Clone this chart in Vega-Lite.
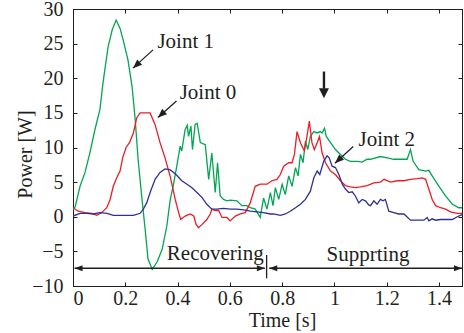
{
  "$schema": "https://vega.github.io/schema/vega-lite/v6.json",
  "width": 389,
  "height": 277,
  "autosize": {"type": "none"},
  "padding": {"left": 73, "top": 9, "right": 2, "bottom": 47},
  "background": "white",
  "config": {
    "view": {"stroke": "#231F20", "strokeWidth": 1},
    "font": "Liberation Serif",
    "style": {"guide-label": {"font": "Liberation Serif"}, "guide-title": {"font": "Liberation Serif"}},
    "axis": {
      "labelFont": "Liberation Serif", "labelFontSize": 20, "labelColor": "#231F20",
      "titleFont": "Liberation Serif", "titleFontSize": 20, "titleFontWeight": "normal", "titleColor": "#231F20",
      "domainColor": "#231F20", "tickColor": "#231F20", "tickSize": -4, "grid": false, "format": "~g"
    }
  },
  "datasets": {
    "j": [
      {"s":"Joint 1","t":0.0,"P":1.0},{"s":"Joint 1","t":0.008,"P":1.4},{"s":"Joint 1","t":0.027,"P":4.4},{"s":"Joint 1","t":0.046,"P":6.4},{"s":"Joint 1","t":0.065,"P":9.3},{"s":"Joint 1","t":0.084,"P":12.6},{"s":"Joint 1","t":0.103,"P":15.5},{"s":"Joint 1","t":0.115,"P":19.4},{"s":"Joint 1","t":0.134,"P":24.5},{"s":"Joint 1","t":0.15,"P":27.0},{"s":"Joint 1","t":0.165,"P":28.4},{"s":"Joint 1","t":0.18,"P":27.2},{"s":"Joint 1","t":0.192,"P":25.5},{"s":"Joint 1","t":0.21,"P":22.7},{"s":"Joint 1","t":0.226,"P":18.8},{"s":"Joint 1","t":0.238,"P":14.0},{"s":"Joint 1","t":0.249,"P":8.3},{"s":"Joint 1","t":0.264,"P":2.5},{"s":"Joint 1","t":0.276,"P":-1.8},{"s":"Joint 1","t":0.287,"P":-6.1},{"s":"Joint 1","t":0.303,"P":-7.6},{"s":"Joint 1","t":0.322,"P":-6.5},{"s":"Joint 1","t":0.341,"P":-4.7},{"s":"Joint 1","t":0.359,"P":-1.3},{"s":"Joint 1","t":0.372,"P":2.5},{"s":"Joint 1","t":0.383,"P":4.4},{"s":"Joint 1","t":0.397,"P":7.3},{"s":"Joint 1","t":0.41,"P":10.2},{"s":"Joint 1","t":0.416,"P":9.5},{"s":"Joint 1","t":0.429,"P":12.6},{"s":"Joint 1","t":0.437,"P":13.2},{"s":"Joint 1","t":0.442,"P":11.6},{"s":"Joint 1","t":0.451,"P":13.1},{"s":"Joint 1","t":0.457,"P":9.7},{"s":"Joint 1","t":0.467,"P":13.3},{"s":"Joint 1","t":0.475,"P":13.5},{"s":"Joint 1","t":0.487,"P":10.7},{"s":"Joint 1","t":0.506,"P":10.4},{"s":"Joint 1","t":0.519,"P":5.4},{"s":"Joint 1","t":0.531,"P":9.2},{"s":"Joint 1","t":0.544,"P":3.5},{"s":"Joint 1","t":0.553,"P":7.8},{"s":"Joint 1","t":0.563,"P":3.0},{"s":"Joint 1","t":0.576,"P":2.5},{"s":"Joint 1","t":0.589,"P":2.3},{"s":"Joint 1","t":0.602,"P":2.4},{"s":"Joint 1","t":0.627,"P":2.3},{"s":"Joint 1","t":0.646,"P":1.6},{"s":"Joint 1","t":0.665,"P":1.6},{"s":"Joint 1","t":0.678,"P":1.3},{"s":"Joint 1","t":0.697,"P":1.1},{"s":"Joint 1","t":0.716,"P":-0.1},{"s":"Joint 1","t":0.729,"P":2.7},{"s":"Joint 1","t":0.742,"P":1.1},{"s":"Joint 1","t":0.755,"P":3.5},{"s":"Joint 1","t":0.765,"P":1.6},{"s":"Joint 1","t":0.774,"P":4.2},{"s":"Joint 1","t":0.787,"P":2.5},{"s":"Joint 1","t":0.8,"P":4.7},{"s":"Joint 1","t":0.812,"P":3.2},{"s":"Joint 1","t":0.825,"P":5.9},{"s":"Joint 1","t":0.838,"P":4.4},{"s":"Joint 1","t":0.851,"P":7.1},{"s":"Joint 1","t":0.861,"P":5.9},{"s":"Joint 1","t":0.87,"P":9.0},{"s":"Joint 1","t":0.88,"P":7.8},{"s":"Joint 1","t":0.889,"P":10.9},{"s":"Joint 1","t":0.898,"P":9.7},{"s":"Joint 1","t":0.908,"P":11.6},{"s":"Joint 1","t":0.921,"P":12.3},{"s":"Joint 1","t":0.934,"P":12.1},{"s":"Joint 1","t":0.946,"P":12.3},{"s":"Joint 1","t":0.953,"P":12.1},{"s":"Joint 1","t":0.962,"P":12.8},{"s":"Joint 1","t":0.969,"P":11.6},{"s":"Joint 1","t":0.985,"P":10.7},{"s":"Joint 1","t":1.004,"P":9.7},{"s":"Joint 1","t":1.023,"P":9.0},{"s":"Joint 1","t":1.042,"P":8.3},{"s":"Joint 1","t":1.061,"P":8.0},{"s":"Joint 1","t":1.088,"P":8.0},{"s":"Joint 1","t":1.106,"P":7.9},{"s":"Joint 1","t":1.125,"P":8.3},{"s":"Joint 1","t":1.138,"P":8.3},{"s":"Joint 1","t":1.176,"P":8.7},{"s":"Joint 1","t":1.202,"P":8.5},{"s":"Joint 1","t":1.227,"P":8.3},{"s":"Joint 1","t":1.253,"P":8.3},{"s":"Joint 1","t":1.278,"P":8.3},{"s":"Joint 1","t":1.291,"P":9.7},{"s":"Joint 1","t":1.301,"P":8.0},{"s":"Joint 1","t":1.323,"P":6.8},{"s":"Joint 1","t":1.349,"P":6.6},{"s":"Joint 1","t":1.361,"P":6.7},{"s":"Joint 1","t":1.374,"P":5.9},{"s":"Joint 1","t":1.4,"P":4.4},{"s":"Joint 1","t":1.425,"P":3.0},{"s":"Joint 1","t":1.451,"P":1.8},{"s":"Joint 1","t":1.476,"P":1.3},{"s":"Joint 1","t":1.495,"P":1.3},
      {"s":"Joint 0","t":0.0,"P":1.3},{"s":"Joint 0","t":0.02,"P":0.8},{"s":"Joint 0","t":0.046,"P":0.6},{"s":"Joint 0","t":0.072,"P":0.5},{"s":"Joint 0","t":0.091,"P":0.2},{"s":"Joint 0","t":0.11,"P":0.6},{"s":"Joint 0","t":0.129,"P":1.3},{"s":"Joint 0","t":0.142,"P":2.5},{"s":"Joint 0","t":0.154,"P":4.4},{"s":"Joint 0","t":0.167,"P":5.6},{"s":"Joint 0","t":0.18,"P":6.6},{"s":"Joint 0","t":0.19,"P":8.5},{"s":"Joint 0","t":0.203,"P":10.0},{"s":"Joint 0","t":0.216,"P":10.7},{"s":"Joint 0","t":0.231,"P":12.1},{"s":"Joint 0","t":0.244,"P":14.3},{"s":"Joint 0","t":0.257,"P":15.0},{"s":"Joint 0","t":0.282,"P":15.0},{"s":"Joint 0","t":0.295,"P":15.0},{"s":"Joint 0","t":0.314,"P":13.3},{"s":"Joint 0","t":0.333,"P":10.7},{"s":"Joint 0","t":0.352,"P":8.5},{"s":"Joint 0","t":0.372,"P":5.8},{"s":"Joint 0","t":0.391,"P":2.5},{"s":"Joint 0","t":0.404,"P":0.6},{"s":"Joint 0","t":0.412,"P":-0.4},{"s":"Joint 0","t":0.429,"P":0.1},{"s":"Joint 0","t":0.448,"P":0.4},{"s":"Joint 0","t":0.462,"P":0.1},{"s":"Joint 0","t":0.471,"P":-1.1},{"s":"Joint 0","t":0.48,"P":-1.6},{"s":"Joint 0","t":0.494,"P":-1.1},{"s":"Joint 0","t":0.512,"P":-0.4},{"s":"Joint 0","t":0.525,"P":0.4},{"s":"Joint 0","t":0.531,"P":1.1},{"s":"Joint 0","t":0.544,"P":0.9},{"s":"Joint 0","t":0.557,"P":0.9},{"s":"Joint 0","t":0.57,"P":-0.1},{"s":"Joint 0","t":0.589,"P":-0.1},{"s":"Joint 0","t":0.601,"P":-0.6},{"s":"Joint 0","t":0.621,"P":0.1},{"s":"Joint 0","t":0.64,"P":0.4},{"s":"Joint 0","t":0.659,"P":0.6},{"s":"Joint 0","t":0.678,"P":2.0},{"s":"Joint 0","t":0.697,"P":4.4},{"s":"Joint 0","t":0.716,"P":4.7},{"s":"Joint 0","t":0.742,"P":4.7},{"s":"Joint 0","t":0.761,"P":5.2},{"s":"Joint 0","t":0.78,"P":5.4},{"s":"Joint 0","t":0.793,"P":6.1},{"s":"Joint 0","t":0.806,"P":7.3},{"s":"Joint 0","t":0.825,"P":7.8},{"s":"Joint 0","t":0.838,"P":7.8},{"s":"Joint 0","t":0.847,"P":9.0},{"s":"Joint 0","t":0.857,"P":12.3},{"s":"Joint 0","t":0.87,"P":10.7},{"s":"Joint 0","t":0.885,"P":9.5},{"s":"Joint 0","t":0.895,"P":11.6},{"s":"Joint 0","t":0.904,"P":13.8},{"s":"Joint 0","t":0.914,"P":10.7},{"s":"Joint 0","t":0.923,"P":9.7},{"s":"Joint 0","t":0.934,"P":10.7},{"s":"Joint 0","t":0.943,"P":11.6},{"s":"Joint 0","t":0.953,"P":9.2},{"s":"Joint 0","t":0.966,"P":7.8},{"s":"Joint 0","t":0.985,"P":6.6},{"s":"Joint 0","t":1.004,"P":6.1},{"s":"Joint 0","t":1.023,"P":5.2},{"s":"Joint 0","t":1.042,"P":4.5},{"s":"Joint 0","t":1.061,"P":4.3},{"s":"Joint 0","t":1.08,"P":4.2},{"s":"Joint 0","t":1.1,"P":4.3},{"s":"Joint 0","t":1.125,"P":4.5},{"s":"Joint 0","t":1.151,"P":4.9},{"s":"Joint 0","t":1.176,"P":5.0},{"s":"Joint 0","t":1.19,"P":5.4},{"s":"Joint 0","t":1.215,"P":5.0},{"s":"Joint 0","t":1.24,"P":5.2},{"s":"Joint 0","t":1.266,"P":5.2},{"s":"Joint 0","t":1.291,"P":5.4},{"s":"Joint 0","t":1.317,"P":5.5},{"s":"Joint 0","t":1.336,"P":5.6},{"s":"Joint 0","t":1.349,"P":5.4},{"s":"Joint 0","t":1.361,"P":4.0},{"s":"Joint 0","t":1.374,"P":2.5},{"s":"Joint 0","t":1.387,"P":1.6},{"s":"Joint 0","t":1.406,"P":1.3},{"s":"Joint 0","t":1.425,"P":1.1},{"s":"Joint 0","t":1.444,"P":0.7},{"s":"Joint 0","t":1.47,"P":0.5},{"s":"Joint 0","t":1.495,"P":0.5},
      {"s":"Joint 2","t":0.0,"P":0.1},{"s":"Joint 2","t":0.027,"P":0.5},{"s":"Joint 2","t":0.052,"P":0.5},{"s":"Joint 2","t":0.078,"P":0.4},{"s":"Joint 2","t":0.103,"P":0.6},{"s":"Joint 2","t":0.13,"P":0.5},{"s":"Joint 2","t":0.154,"P":0.2},{"s":"Joint 2","t":0.18,"P":0.2},{"s":"Joint 2","t":0.206,"P":0.2},{"s":"Joint 2","t":0.231,"P":0.2},{"s":"Joint 2","t":0.257,"P":0.5},{"s":"Joint 2","t":0.269,"P":1.1},{"s":"Joint 2","t":0.282,"P":2.0},{"s":"Joint 2","t":0.295,"P":3.5},{"s":"Joint 2","t":0.314,"P":5.4},{"s":"Joint 2","t":0.333,"P":6.4},{"s":"Joint 2","t":0.352,"P":6.9},{"s":"Joint 2","t":0.37,"P":6.8},{"s":"Joint 2","t":0.378,"P":6.6},{"s":"Joint 2","t":0.397,"P":6.0},{"s":"Joint 2","t":0.416,"P":5.2},{"s":"Joint 2","t":0.436,"P":4.7},{"s":"Joint 2","t":0.455,"P":4.2},{"s":"Joint 2","t":0.474,"P":3.5},{"s":"Joint 2","t":0.493,"P":2.8},{"s":"Joint 2","t":0.512,"P":1.8},{"s":"Joint 2","t":0.531,"P":1.1},{"s":"Joint 2","t":0.55,"P":1.1},{"s":"Joint 2","t":0.576,"P":1.2},{"s":"Joint 2","t":0.602,"P":1.1},{"s":"Joint 2","t":0.627,"P":1.1},{"s":"Joint 2","t":0.653,"P":1.0},{"s":"Joint 2","t":0.678,"P":0.8},{"s":"Joint 2","t":0.703,"P":0.7},{"s":"Joint 2","t":0.729,"P":0.6},{"s":"Joint 2","t":0.755,"P":0.4},{"s":"Joint 2","t":0.767,"P":0.4},{"s":"Joint 2","t":0.793,"P":0.2},{"s":"Joint 2","t":0.812,"P":0.4},{"s":"Joint 2","t":0.831,"P":0.8},{"s":"Joint 2","t":0.851,"P":1.3},{"s":"Joint 2","t":0.87,"P":1.8},{"s":"Joint 2","t":0.889,"P":2.5},{"s":"Joint 2","t":0.908,"P":3.7},{"s":"Joint 2","t":0.921,"P":5.6},{"s":"Joint 2","t":0.934,"P":6.6},{"s":"Joint 2","t":0.944,"P":6.1},{"s":"Joint 2","t":0.959,"P":8.0},{"s":"Joint 2","t":0.972,"P":8.8},{"s":"Joint 2","t":0.98,"P":8.5},{"s":"Joint 2","t":0.991,"P":7.3},{"s":"Joint 2","t":1.004,"P":7.1},{"s":"Joint 2","t":1.017,"P":6.1},{"s":"Joint 2","t":1.03,"P":4.7},{"s":"Joint 2","t":1.042,"P":4.0},{"s":"Joint 2","t":1.055,"P":3.5},{"s":"Joint 2","t":1.068,"P":3.6},{"s":"Joint 2","t":1.08,"P":3.0},{"s":"Joint 2","t":1.093,"P":2.0},{"s":"Joint 2","t":1.106,"P":2.5},{"s":"Joint 2","t":1.119,"P":2.3},{"s":"Joint 2","t":1.131,"P":1.7},{"s":"Joint 2","t":1.138,"P":1.6},{"s":"Joint 2","t":1.151,"P":2.3},{"s":"Joint 2","t":1.163,"P":1.8},{"s":"Joint 2","t":1.176,"P":2.5},{"s":"Joint 2","t":1.186,"P":2.3},{"s":"Joint 2","t":1.195,"P":2.5},{"s":"Joint 2","t":1.208,"P":0.8},{"s":"Joint 2","t":1.227,"P":0.6},{"s":"Joint 2","t":1.246,"P":0.4},{"s":"Joint 2","t":1.266,"P":0.4},{"s":"Joint 2","t":1.291,"P":-0.5},{"s":"Joint 2","t":1.317,"P":-0.5},{"s":"Joint 2","t":1.342,"P":-0.5},{"s":"Joint 2","t":1.355,"P":-0.1},{"s":"Joint 2","t":1.361,"P":-0.6},{"s":"Joint 2","t":1.374,"P":-0.3},{"s":"Joint 2","t":1.387,"P":-0.5},{"s":"Joint 2","t":1.406,"P":-0.4},{"s":"Joint 2","t":1.431,"P":-0.4},{"s":"Joint 2","t":1.451,"P":-0.4},{"s":"Joint 2","t":1.47,"P":0.0},{"s":"Joint 2","t":1.495,"P":0.4}
    ],
    "segs": [
      {"t":0.306,"P":24.1,"t2":0.2295,"P2":21.46},
      {"t":0.396,"P":16.73,"t2":0.325,"P2":14.32},
      {"t":1.072,"P":10.13,"t2":1.002,"P2":7.73},
      {"t":0.006,"P":-7.44,"t2":0.734,"P2":-7.44},
      {"t":0.7506,"P":-7.44,"t2":1.488,"P2":-7.44},
      {"t":0.7406,"P":-5.52,"t2":0.7406,"P2":-8.89}
    ],
    "down": [{"t":0.96,"P":20.97,"t2":0.96,"P2":18.5}],
    "headDiag": [{"t":0.2295,"P":21.46},{"t":0.325,"P":14.32},{"t":1.002,"P":7.73}],
    "headDown": [{"t":0.96,"P":17.12}],
    "headLeft": [{"t":0.006,"P":-7.44},{"t":0.7506,"P":-7.44}],
    "headRight": [{"t":0.734,"P":-7.44},{"t":1.488,"P":-7.44}],
    "labels": [
      {"t":0.323,"P":24.4,"label":"Joint 1"},
      {"t":0.408,"P":17.0,"label":"Joint 0"},
      {"t":1.092,"P":10.2,"label":"Joint 2"},
      {"t":0.359,"P":-6.3,"label":"Recovering"},
      {"t":0.970,"P":-6.4,"label":"Supprting"}
    ]
  },
  "resolve": {"axis": {"x": "independent", "y": "independent"}},
  "layer": [
    {
      "data": {"name": "j"},
      "mark": {"type": "line", "strokeWidth": 1.3, "clip": true},
      "encoding": {
        "x": {"field": "t", "type": "quantitative", "scale": {"domain": [0, 1.488], "nice": false, "zero": false},
              "axis": {"values": [0, 0.2, 0.4, 0.6, 0.8, 1, 1.2, 1.4], "title": "Time [s]", "labelFont": "Liberation Serif", "titleFont": "Liberation Serif", "labelPadding": 6, "titlePadding": 2, "titleX": 209}},
        "y": {"field": "P", "type": "quantitative", "scale": {"domain": [-10, 30], "nice": false, "zero": false},
              "axis": {"values": [-10, -5, 0, 5, 10, 15, 20, 25, 30], "title": "Power [W]", "labelFont": "Liberation Serif", "titleFont": "Liberation Serif", "labelPadding": 14, "titleX": -38, "titleY": 145}},
        "color": {"field": "s", "type": "nominal", "legend": null,
                  "scale": {"domain": ["Joint 0", "Joint 1", "Joint 2"], "range": ["#ED1C24", "#00A651", "#2E3192"]}},
        "order": {"field": "t"}
      }
    },
    {
      "data": {"name": "segs"},
      "mark": {"type": "rule", "strokeWidth": 1.3, "color": "#231F20"},
      "encoding": {
        "x": {"field": "t", "type": "quantitative", "axis": {"orient": "top", "values": [0, 0.2, 0.4, 0.6, 0.8, 1, 1.2, 1.4], "labels": false, "title": null}},
        "y": {"field": "P", "type": "quantitative", "axis": {"orient": "right", "values": [-10, -5, 0, 5, 10, 15, 20, 25, 30], "labels": false, "title": null}},
        "x2": {"field": "t2"},
        "y2": {"field": "P2"}
      }
    },
    {
      "data": {"name": "down"},
      "mark": {"type": "rule", "strokeWidth": 2.4, "color": "#231F20"},
      "encoding": {
        "x": {"field": "t", "type": "quantitative", "axis": null},
        "y": {"field": "P", "type": "quantitative", "axis": null},
        "x2": {"field": "t2"},
        "y2": {"field": "P2"}
      }
    },
    {
      "data": {"name": "headDiag"},
      "mark": {"type": "point", "shape": "M0,0L0.4,1L-0.4,1Z", "filled": true, "opacity": 1, "size": 324, "angle": 227.5, "color": "#231F20", "strokeWidth": 0},
      "encoding": {
        "x": {"field": "t", "type": "quantitative", "axis": null},
        "y": {"field": "P", "type": "quantitative", "axis": null}
      }
    },
    {
      "data": {"name": "headDown"},
      "mark": {"type": "point", "shape": "M0,0L0.5,1L-0.5,1Z", "filled": true, "opacity": 1, "size": 400, "angle": 180, "color": "#231F20", "strokeWidth": 0},
      "encoding": {
        "x": {"field": "t", "type": "quantitative", "axis": null},
        "y": {"field": "P", "type": "quantitative", "axis": null}
      }
    },
    {
      "data": {"name": "headLeft"},
      "mark": {"type": "point", "shape": "M0,0L0.375,1L-0.375,1Z", "filled": true, "opacity": 1, "size": 256, "angle": 270, "color": "#231F20", "strokeWidth": 0},
      "encoding": {
        "x": {"field": "t", "type": "quantitative", "axis": null},
        "y": {"field": "P", "type": "quantitative", "axis": null}
      }
    },
    {
      "data": {"name": "headRight"},
      "mark": {"type": "point", "shape": "M0,0L0.375,1L-0.375,1Z", "filled": true, "opacity": 1, "size": 256, "angle": 90, "color": "#231F20", "strokeWidth": 0},
      "encoding": {
        "x": {"field": "t", "type": "quantitative", "axis": null},
        "y": {"field": "P", "type": "quantitative", "axis": null}
      }
    },
    {
      "data": {"name": "labels"},
      "mark": {"type": "text", "font": "Liberation Serif", "fontSize": 21, "align": "left", "baseline": "alphabetic", "color": "#231F20"},
      "encoding": {
        "x": {"field": "t", "type": "quantitative", "axis": null},
        "y": {"field": "P", "type": "quantitative", "axis": null},
        "text": {"field": "label"}
      }
    }
  ]
}
